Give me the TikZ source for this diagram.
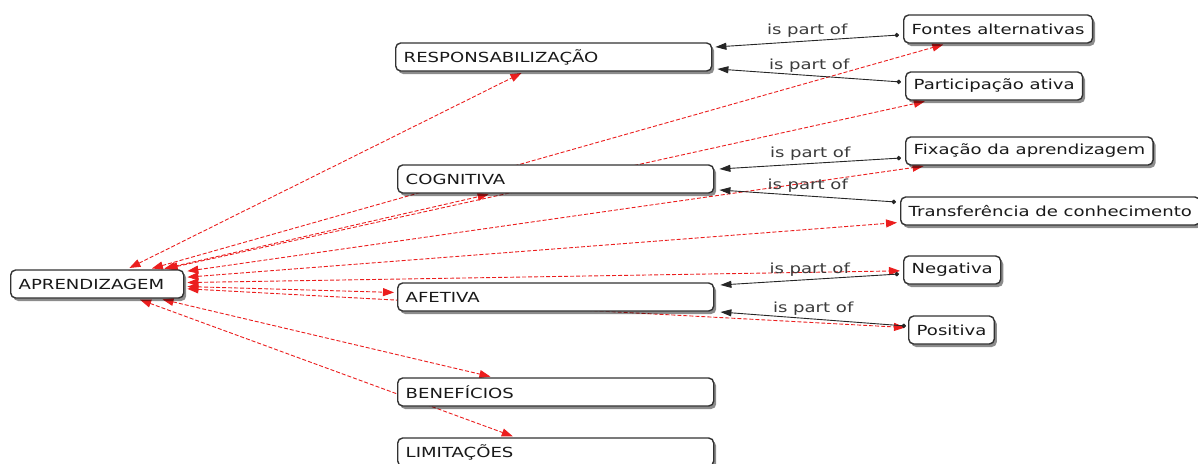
\documentclass[tikz,border=0pt]{standalone}
\usepackage{fontspec}
\newfontfamily\mapfam[FakeStretch=1.3]{DejaVu Sans}
\newcommand\mapfont{\mapfam\fontsize{13.9pt}{16pt}\selectfont}
\usetikzlibrary{arrows.meta,shadows,backgrounds}
\definecolor{boxc}{RGB}{50,50,50}
\definecolor{redl}{RGB}{235,30,30}
\definecolor{txt}{RGB}{25,25,25}
\begin{document}
\begin{tikzpicture}[x=1pt,y=-1pt,
  box/.style={draw=boxc, line width=1.4pt, rounded corners=5pt, fill=white,
    drop shadow={shadow xshift=2.5pt, shadow yshift=-3pt, fill=black, opacity=0.45},
    minimum height=28pt, inner xsep=8pt, inner ysep=2pt, font=\mapfont, text=txt,
    anchor=west, align=left},
  parent/.style={box, text width=300pt},
  rel/.style={draw=redl, line width=0.9pt, dash pattern=on 4pt off 2pt,
    {Triangle[length=11pt,width=8pt]}-{Triangle[length=11pt,width=8pt]},
    shorten <=3pt, shorten >=3pt},
  part/.style={draw=black!85, line width=0.9pt,
    {Circle[length=4.5pt]}-{Triangle[length=11pt,width=7pt]}},
  lab/.style={font=\mapfont, text=txt!85, midway, above, yshift=1pt, inner sep=2pt}]
\useasboundingbox (0,0) rectangle (1198,463);

% nodes
\node[box, text width=157pt] (aprend) at (10,284) {APRENDIZAGEM};
\node[parent] (resp) at (395,57) {RESPONSABILIZAÇÃO};
\node[parent] (cogn) at (397,179) {COGNITIVA};
\node[parent] (afet) at (397,297) {AFETIVA};
\node[parent] (benef) at (397,392) {BENEFÍCIOS};
\node[parent] (limit) at (397,452) {LIMITAÇÕES};
\node[box] (fontes) at (903,29) {Fontes alternativas};
\node[box] (partic) at (905,86) {Participação ativa};
\node[box] (fixacao) at (905,151) {Fixação da aprendizagem};
\node[box] (transf) at (900,211) {Transferência de conhecimento};
\node[box] (negativa) at (903,270) {Negativa};
\node[box] (positiva) at (908,330) {Positiva};

\begin{scope}[on background layer]
  \foreach \t in {resp,cogn,afet,benef,limit,fontes,partic,fixacao,transf,negativa,positiva}
    \draw[rel] (aprend) -- (\t);
  \draw[part] ([xshift=-4pt,yshift=-6pt]fontes.west) -- node[lab] {is part of} ([xshift=3pt,yshift=10pt]resp.east);
  \draw[part] ([xshift=-4pt,yshift=4pt]partic.west) -- node[lab] {is part of} ([xshift=5pt,yshift=-12pt]resp.east);
  \draw[part] ([xshift=-4pt,yshift=-7pt]fixacao.west) -- node[lab] {is part of} ([xshift=5pt,yshift=10pt]cogn.east);
  \draw[part] ([xshift=-4pt,yshift=9pt]transf.west) -- node[lab] {is part of} ([xshift=5pt,yshift=-11pt]cogn.east);
  \draw[part] ([xshift=-4pt,yshift=-4pt]negativa.west) -- node[lab] {is part of} ([xshift=6pt,yshift=12pt]afet.east);
  \draw[part] ([xshift=-2pt,yshift=4pt]positiva.west) -- node[lab] {is part of} ([xshift=6pt,yshift=-15pt]afet.east);
\end{scope}
\end{tikzpicture}
\end{document}
